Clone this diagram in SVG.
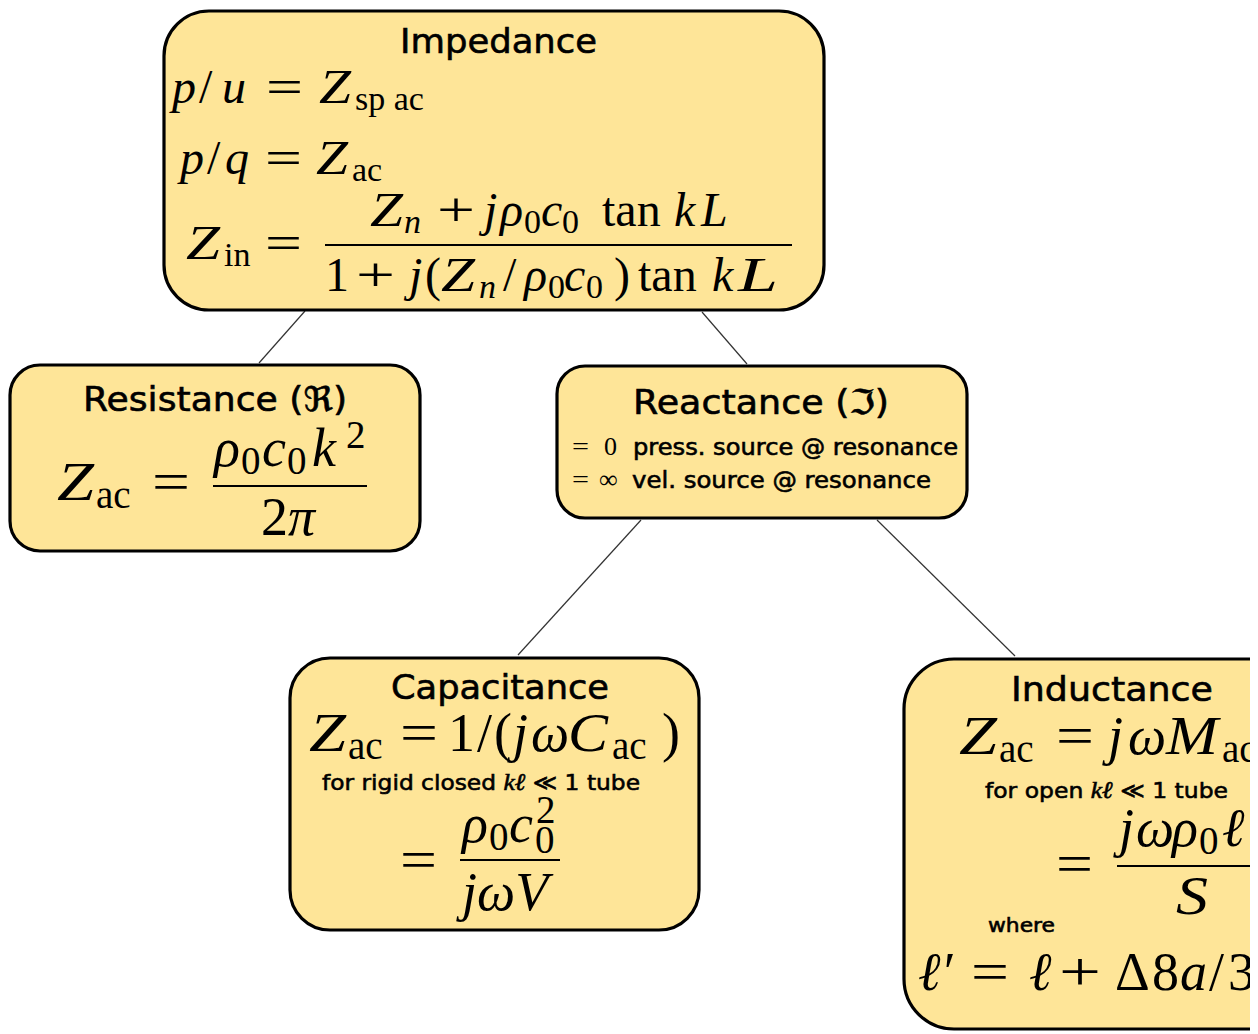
<svg xmlns="http://www.w3.org/2000/svg" width="1258" height="1034" viewBox="0 0 1258 1034">
<style>
.box{fill:#FEE598;stroke:#000;stroke-width:3.2}
.lbl{font-family:"DejaVu Sans","Open Sans",sans-serif;fill:#000;stroke:#000;stroke-width:0.6}
.m{font-family:"Liberation Serif","DejaVu Serif",serif;fill:#000}
.i{font-style:italic}
.s45{font-size:48px}
.s31{font-size:34px}
.s52{font-size:54px}
.s36{font-size:39px}
.bar{stroke:#000;stroke-width:2.2}
.edge{stroke:#333;stroke-width:1.2;fill:none}
</style>
<defs>
<clipPath id="clipR"><rect x="0" y="0" width="1250" height="1034"/></clipPath>
</defs>
<rect width="1258" height="1034" fill="#fff"/>
<g id="connectors">
<line class="edge" x1="305" y1="311" x2="259" y2="363"/>
<line class="edge" x1="702" y1="312" x2="747" y2="364"/>
<line class="edge" x1="641" y1="520" x2="518" y2="655"/>
<line class="edge" x1="877" y1="520" x2="1015" y2="656"/>
</g>
<g id="impedance">
<rect class="box" x="164" y="11" width="660" height="299" rx="45"/>
<text class="lbl" x="400" y="53" font-size="34" textLength="197" lengthAdjust="spacingAndGlyphs">Impedance</text>
<text class="m i s45" x="172" y="103">p</text>
<text class="m s45" x="199" y="103">/</text>
<text class="m i s45" x="222" y="103">u</text>
<text class="m s45" x="266" y="103" textLength="37" lengthAdjust="spacingAndGlyphs">=</text>
<text class="m i s45" x="319" y="103" textLength="32" lengthAdjust="spacingAndGlyphs">Z</text>
<text class="m s31" x="355" y="110" font-size="38">sp ac</text>
<text class="m i s45" x="180" y="174">p</text>
<text class="m s45" x="207" y="174">/</text>
<text class="m i s45" x="225" y="174">q</text>
<text class="m s45" x="265" y="174" textLength="37" lengthAdjust="spacingAndGlyphs">=</text>
<text class="m i s45" x="316" y="174" textLength="32" lengthAdjust="spacingAndGlyphs">Z</text>
<text class="m s31" x="352" y="181">ac</text>
<text class="m i s45" x="186" y="259" textLength="34" lengthAdjust="spacingAndGlyphs">Z</text>
<text class="m s31" x="224" y="266">in</text>
<text class="m s45" x="265" y="259" textLength="37" lengthAdjust="spacingAndGlyphs">=</text>
<line class="bar" x1="325" y1="245" x2="792" y2="245"/>
<text class="m i s45" x="370" y="226" textLength="33" lengthAdjust="spacingAndGlyphs">Z</text>
<text class="m i s31" x="404" y="233">n</text>
<text class="m s45" x="437" y="226" textLength="38" lengthAdjust="spacingAndGlyphs">+</text>
<text class="m i s45" x="484" y="226">j</text>
<text class="m i s45" x="500" y="226">ρ</text>
<text class="m s31" x="524" y="233">0</text>
<text class="m i s45" x="541" y="226">c</text>
<text class="m s31" x="562" y="233">0</text>
<text class="m s45" x="602" y="226">tan</text>
<text class="m i s45" x="674" y="226">k</text>
<text class="m i s45" x="701" y="226">L</text>
<text class="m s45" x="325" y="291">1</text>
<text class="m s45" x="356" y="291" textLength="39" lengthAdjust="spacingAndGlyphs">+</text>
<text class="m i s45" x="409" y="291">j</text>
<text class="m s45" x="425" y="291">(</text>
<text class="m i s45" x="441" y="291" textLength="34" lengthAdjust="spacingAndGlyphs">Z</text>
<text class="m i s31" x="479" y="298">n</text>
<text class="m s45" x="503" y="291">/</text>
<text class="m i s45" x="524" y="291">ρ</text>
<text class="m s31" x="548" y="298">0</text>
<text class="m i s45" x="564" y="291">c</text>
<text class="m s31" x="586" y="298">0</text>
<text class="m s45" x="614" y="291">)</text>
<text class="m s45" x="638" y="291">tan</text>
<text class="m i s45" x="712" y="291">k</text>
<text class="m i s45" x="738" y="291" textLength="40" lengthAdjust="spacingAndGlyphs">L</text>
</g>
<g id="resistance">
<rect class="box" x="10" y="365" width="410" height="186" rx="30"/>
<text class="lbl" x="83" y="411" font-size="34" textLength="264" lengthAdjust="spacingAndGlyphs">Resistance (ℜ)</text>
<text class="m i s52" x="57" y="500" textLength="37" lengthAdjust="spacingAndGlyphs">Z</text>
<text class="m s36" x="96" y="508">ac</text>
<text class="m s52" x="152" y="500" textLength="38" lengthAdjust="spacingAndGlyphs">=</text>
<line class="bar" x1="213" y1="486" x2="367" y2="486"/>
<text class="m i s52" x="214" y="466">ρ</text>
<text class="m s36" x="241" y="474">0</text>
<text class="m i s52" x="262" y="466">c</text>
<text class="m s36" x="287" y="474">0</text>
<text class="m i s52" x="312" y="466">k</text>
<text class="m s36" x="346" y="448">2</text>
<text class="m s52" x="261" y="535">2</text>
<text class="m i s52" x="288" y="535">π</text>
</g>
<g id="reactance">
<rect class="box" x="557" y="366" width="410" height="152" rx="28"/>
<text class="lbl" x="633" y="414" font-size="34" textLength="256" lengthAdjust="spacingAndGlyphs">Reactance (ℑ)</text>
<text class="m" x="572" y="455" font-size="26" textLength="17" lengthAdjust="spacingAndGlyphs">=</text>
<text class="m" x="604" y="455" font-size="26">0</text>
<text class="lbl" x="633" y="455" font-size="23" textLength="325" lengthAdjust="spacingAndGlyphs">press. source @ resonance</text>
<text class="m" x="572" y="488" font-size="26" textLength="17" lengthAdjust="spacingAndGlyphs">=</text>
<text class="m" x="599" y="488" font-size="26">∞</text>
<text class="lbl" x="632" y="488" font-size="23" textLength="299" lengthAdjust="spacingAndGlyphs">vel. source @ resonance</text>
</g>
<g id="capacitance">
<rect class="box" x="290" y="658" width="409" height="272" rx="40"/>
<text class="lbl" x="391" y="699" font-size="34" textLength="218" lengthAdjust="spacingAndGlyphs">Capacitance</text>
<text class="m i s52" x="309" y="751" textLength="37" lengthAdjust="spacingAndGlyphs">Z</text>
<text class="m s36" x="348" y="759">ac</text>
<text class="m s52" x="400" y="751" textLength="38" lengthAdjust="spacingAndGlyphs">=</text>
<text class="m s52" x="448" y="751">1</text>
<text class="m s52" x="477" y="751">/</text>
<text class="m s52" x="494" y="751">(</text>
<text class="m i s52" x="513" y="751">j</text>
<text class="m i s52" x="531" y="751">ω</text>
<text class="m i s52" x="568" y="751" textLength="40" lengthAdjust="spacingAndGlyphs">C</text>
<text class="m s36" x="612" y="759">ac</text>
<text class="m s52" x="662" y="751">)</text>
<text class="lbl" x="322" y="790" font-size="22" textLength="318" lengthAdjust="spacingAndGlyphs"><tspan>for rigid closed </tspan><tspan class="m i" font-size="24">kℓ</tspan><tspan> ≪ 1 tube</tspan></text>
<text class="m s52" x="400" y="878" textLength="37" lengthAdjust="spacingAndGlyphs">=</text>
<line class="bar" x1="460" y1="860" x2="560" y2="860"/>
<text class="m i s52" x="462" y="842">ρ</text>
<text class="m s36" x="489" y="850">0</text>
<text class="m i s52" x="509" y="842">c</text>
<text class="m s36" x="535" y="853">0</text>
<text class="m s36" x="536" y="823">2</text>
<text class="m i s52" x="462" y="910">jωV</text>
</g>
<g id="inductance" clip-path="url(#clipR)">
<rect class="box" x="904" y="659" width="420" height="370" rx="50"/>
<text class="lbl" x="1011" y="701" font-size="34" textLength="202" lengthAdjust="spacingAndGlyphs">Inductance</text>
<text class="m i s52" x="959" y="754" textLength="38" lengthAdjust="spacingAndGlyphs">Z</text>
<text class="m s36" x="999" y="762">ac</text>
<text class="m s52" x="1056" y="754" textLength="38" lengthAdjust="spacingAndGlyphs">=</text>
<text class="m i s52" x="1108" y="754">j</text>
<text class="m i s52" x="1128" y="754">ω</text>
<text class="m i s52" x="1166" y="754" textLength="52" lengthAdjust="spacingAndGlyphs">M</text>
<text class="m s36" x="1222" y="762">ac</text>
<text class="lbl" x="985" y="798" font-size="22" textLength="243" lengthAdjust="spacingAndGlyphs"><tspan>for open </tspan><tspan class="m i" font-size="24">kℓ</tspan><tspan> ≪ 1 tube</tspan></text>
<text class="m s52" x="1056" y="882" textLength="37" lengthAdjust="spacingAndGlyphs">=</text>
<line class="bar" x1="1117" y1="866" x2="1260" y2="866"/>
<text class="m i s52" x="1119" y="846">j</text>
<text class="m i s52" x="1136" y="846">ω</text>
<text class="m i s52" x="1172" y="846">ρ</text>
<text class="m s36" x="1199" y="854">0</text>
<text class="m i s52" x="1222" y="846">ℓ′</text>
<text class="m i s52" x="1176" y="914" textLength="32" lengthAdjust="spacingAndGlyphs">S</text>
<text class="lbl" x="988" y="932" font-size="20" textLength="67" lengthAdjust="spacingAndGlyphs">where</text>
<text class="m i s52" x="918" y="990">ℓ′</text>
<text class="m s52" x="971" y="990" textLength="38" lengthAdjust="spacingAndGlyphs">=</text>
<text class="m i s52" x="1029" y="990">ℓ</text>
<text class="m s52" x="1059" y="990" textLength="42" lengthAdjust="spacingAndGlyphs">+</text>
<text class="m s52" x="1115" y="990">Δ</text>
<text class="m s52" x="1152" y="990">8</text>
<text class="m i s52" x="1180" y="990">a</text>
<text class="m s52" x="1209" y="990">/</text>
<text class="m s52" x="1228" y="990">3</text>
</g>
</svg>
